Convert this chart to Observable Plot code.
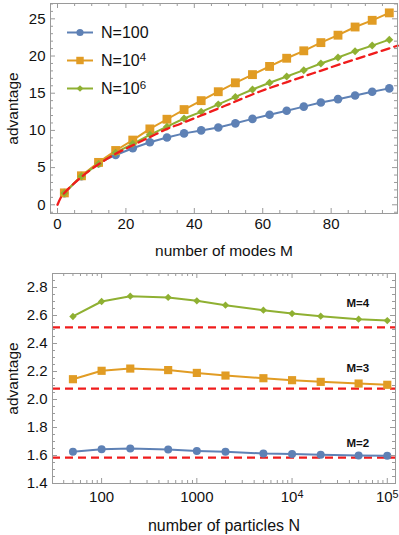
<!DOCTYPE html>
<html><head><meta charset="utf-8">
<script src="https://cdn.jsdelivr.net/npm/d3@7"></script>
<script src="https://cdn.jsdelivr.net/npm/@observablehq/plot@0.6"></script>
<style>
body{margin:0;background:#fff;}
#wrap{position:relative;width:399px;font-family:"Liberation Sans",Arial,sans-serif;}
#wrap svg{display:block;}
#legend{position:absolute;left:0;top:0;}
</style></head><body><div id="wrap"></div>
<script>
// ---------- top panel data ----------
const modes = [2,7,12,17,22,27,32,37,42,47,52,57,62,67,72,77,82,87,92,97];
const advN100 = [1.57,3.85,5.6,6.7,7.6,8.4,9.05,9.6,10.0,10.4,10.95,11.55,12.1,12.65,13.2,13.75,14.2,14.7,15.2,15.65];
const advN1e4 = [1.6,3.9,5.7,7.3,8.7,10.2,11.5,12.8,14.0,15.2,16.4,17.5,18.6,19.7,20.7,21.8,22.8,23.9,24.8,25.8];
const advN1e6 = [1.6,3.85,5.5,7.0,8.2,9.4,10.5,11.6,12.5,13.5,14.5,15.5,16.4,17.25,18.1,19.0,19.8,20.65,21.4,22.2];
const limitM   = [0,1,2,3,4,7,12,17,22,27,32,36,42,50,59,71,83,99.5];
const limitAdv = [0,1.0,1.585,2.08,2.52,3.75,5.45,6.85,8.0,9.1,10.2,10.9,12.0,13.5,15.2,17.1,18.95,21.4];
const topNames = ["N=100","N=10\u2074","N=10\u2076"];

// ---------- bottom panel data ----------
const particles = [50,100,200,500,1000,2000,5000,1e4,2e4,5e4,1e5];
const advM2 = [1.626,1.645,1.650,1.643,1.633,1.626,1.614,1.610,1.605,1.600,1.598];
const advM3 = [2.145,2.205,2.221,2.210,2.190,2.171,2.152,2.138,2.126,2.114,2.105];
const advM4 = [2.593,2.700,2.738,2.729,2.705,2.674,2.638,2.614,2.595,2.574,2.564];
const limitByM = [1.585,2.078,2.515];
const bottomNames = ["M=2","M=3","M=4"];
const bottomLabelY = [1.69,2.22,2.685];
const bottomLabelN = 4.9e4;

// ---------- ticks ----------
const topXTicks = [0,20,40,60,80];
const topXMinor = [5,10,15,25,30,35,45,50,55,65,70,75,85,90,95];
const topYTicks = [0,5,10,15,20,25];
const topYMinor = [-1,1,2,3,4,6,7,8,9,11,12,13,14,16,17,18,19,21,22,23,24,26,27];
const botXTicks = [100,1000,1e4,1e5];
const botXTickLabels = ["100","1000","10\u2074","10\u2075"];
const botXMinor = [40,50,60,70,80,90,200,300,400,500,600,700,800,900,2000,3000,4000,5000,6000,7000,8000,9000,2e4,3e4,4e4,5e4,6e4,7e4,8e4,9e4];
const botYTicks = [1.4,1.6,1.8,2.0,2.2,2.4,2.6,2.8];
const botYMinor = [1.45,1.5,1.55,1.65,1.7,1.75,1.85,1.9,1.95,2.05,2.1,2.15,2.25,2.3,2.35,2.45,2.5,2.55,2.65,2.7,2.75,2.85];

// ---------- style ----------
const colors = ["#5E81B5","#E19C24","#8FB032"];
const symbols = ["circle","square","diamond2"];
const radiiTop = [4.3,5.0,3.6];
const radiiBot = [4.0,4.6,3.3];
const red = "#f01c1c";
const frameColor = "#9a9a9a";
const W = 399;
const font = "Liberation Sans, Arial, sans-serif";

function tickMarks(fw, fh, xMaj, xMin, yMaj, yMin) {
  const L = 5, l = 3, c = frameColor;
  return [
    Plot.tickX(xMaj, {x: d => d, insetTop: fh - L, stroke: c}),
    Plot.tickX(xMin, {x: d => d, insetTop: fh - l, stroke: c}),
    Plot.tickX(xMaj, {x: d => d, insetBottom: fh - L, stroke: c}),
    Plot.tickX(xMin, {x: d => d, insetBottom: fh - l, stroke: c}),
    Plot.tickY(yMaj, {y: d => d, insetRight: fw - L, stroke: c}),
    Plot.tickY(yMin, {y: d => d, insetRight: fw - l, stroke: c}),
    Plot.tickY(yMaj, {y: d => d, insetLeft: fw - L, stroke: c}),
    Plot.tickY(yMin, {y: d => d, insetLeft: fw - l, stroke: c})
  ];
}

// ---------- top chart ----------
const topSeries = [advN100, advN1e4, advN1e6].map((vals, k) =>
  modes.map((m, i) => ({M: m, v: vals[i], k})));
const limitTop = limitM.map((m, i) => ({M: m, v: limitAdv[i]}));

const tM = {l: 50, r: 2, t: 3, b: 57, h: 270};
const topPlot = Plot.plot({
  width: W, height: tM.h,
  marginLeft: tM.l, marginRight: tM.r, marginTop: tM.t, marginBottom: tM.b,
  style: {fontFamily: font, background: "white", color: "#111"},
  x: {domain: [-2.05, 99.4]},
  y: {domain: [-1.17, 27.06]},
  marks: [
    ...topSeries.map((s, k) => Plot.line(s, {x: "M", y: "v", stroke: colors[k], strokeWidth: 2})),
    ...topSeries.map((s, k) => Plot.dot(s, {x: "M", y: "v", symbol: symbols[k], fill: colors[k], r: radiiTop[k]})),
    Plot.line(limitTop, {x: "M", y: "v", stroke: red, strokeWidth: 2.3, strokeDasharray: "8,5", curve: "catmull-rom"}),
    Plot.frame({stroke: frameColor}),
    ...tickMarks(W - tM.l - tM.r, tM.h - tM.t - tM.b, topXTicks, topXMinor, topYTicks, topYMinor),
    Plot.axisX({ticks: topXTicks, tickSize: 0, tickPadding: 5, fontSize: 15, label: null}),
    Plot.axisY({ticks: topYTicks, tickSize: 0, tickPadding: 5, fontSize: 15, label: null}),
    Plot.axisX({ticks: [], label: "number of modes M", labelAnchor: "center", labelArrow: "none", labelOffset: 42, fontSize: 15.5}),
    Plot.axisY({ticks: [], label: "advantage", labelAnchor: "center", labelArrow: "none", labelOffset: 44, fontSize: 15.5})
  ]
});

// ---------- bottom chart ----------
const botSeries = [advM2, advM3, advM4].map((vals, k) =>
  particles.map((n, i) => ({N: n, v: vals[i], k})));
const labelRows = bottomNames.map((t, i) => ({t, N: bottomLabelN, v: bottomLabelY[i]}));

const bM = {l: 52, r: 4, t: 3, b: 52, h: 265};
const botPlot = Plot.plot({
  width: W, height: bM.h,
  marginLeft: bM.l, marginRight: bM.r, marginTop: bM.t, marginBottom: bM.b,
  style: {fontFamily: font, background: "white", color: "#111"},
  x: {type: "log", domain: [30.5, 1.22e5]},
  y: {domain: [1.4, 2.9]},
  marks: [
    Plot.ruleY(limitByM, {y: d => d, stroke: red, strokeWidth: 2.3, strokeDasharray: "8,5"}),
    ...botSeries.map((s, k) => Plot.line(s, {x: "N", y: "v", stroke: colors[k], strokeWidth: 2})),
    ...botSeries.map((s, k) => Plot.dot(s, {x: "N", y: "v", symbol: symbols[k], fill: colors[k], r: radiiBot[k]})),
    Plot.text(labelRows, {x: "N", y: "v", text: "t", fontWeight: "bold", fontSize: 11.5, fill: "#111"}),
    Plot.frame({stroke: frameColor}),
    ...tickMarks(W - bM.l - bM.r, bM.h - bM.t - bM.b, botXTicks, botXMinor, botYTicks, botYMinor),
    Plot.axisX({ticks: botXTicks, tickFormat: d => botXTickLabels[botXTicks.indexOf(d)], tickSize: 0, tickPadding: 8, fontSize: 15, label: null}),
    Plot.axisY({ticks: botYTicks, tickFormat: d => d.toFixed(1), tickSize: 0, tickPadding: 5, fontSize: 15, label: null}),
    Plot.axisX({ticks: [], label: "number of particles N", labelAnchor: "center", labelArrow: "none", labelOffset: 47, fontSize: 16}),
    Plot.axisY({ticks: [], label: "advantage", labelAnchor: "center", labelArrow: "none", labelOffset: 46, fontSize: 15.5})
  ]
});

const wrap = document.getElementById("wrap");
wrap.appendChild(topPlot);
wrap.appendChild(botPlot);

// ---------- legend (overlay on top chart) ----------
const lg = d3.select(wrap).append("svg").attr("id", "legend")
  .attr("width", 170).attr("height", 110);
const symMap = {circle: d3.symbolCircle, square: d3.symbolSquare, diamond2: d3.symbolDiamond2};
const legR = [3.6, 4.2, 3.0];
topNames.forEach((name, k) => {
  const y = 32.5 + k * 28;
  const g = lg.append("g").attr("transform", `translate(0,${y})`);
  g.append("line").attr("x1", 67).attr("x2", 93).attr("y1", 0).attr("y2", 0)
    .attr("stroke", colors[k]).attr("stroke-width", 2);
  g.append("path").attr("transform", "translate(80,0)")
    .attr("d", d3.symbol(symMap[symbols[k]], Math.PI * legR[k] * legR[k])())
    .attr("fill", colors[k]);
  g.append("text").attr("x", 101).attr("y", 0).attr("dy", "0.36em")
    .attr("font-size", 16).attr("font-family", font).attr("fill", "#111").text(name);
});

// ---------- render unicode superscripts as raised smaller digits ----------
const supMap = {"\u2070":"0","\u00b9":"1","\u00b2":"2","\u00b3":"3","\u2074":"4","\u2075":"5","\u2076":"6","\u2077":"7","\u2078":"8","\u2079":"9"};
wrap.querySelectorAll("text, tspan").forEach(el => {
  if (el.children.length) return;
  const s = el.textContent;
  const m = s.match(/^(.*?)([\u2070\u00b9\u00b2\u00b3\u2074-\u2079]+)$/);
  if (!m) return;
  el.textContent = m[1];
  const ns = "http://www.w3.org/2000/svg";
  const t = document.createElementNS(ns, "tspan");
  t.setAttribute("dy", "-0.42em");
  t.setAttribute("font-size", "0.72em");
  t.textContent = m[2].split("").map(c => supMap[c]).join("");
  el.appendChild(t);
});
</script>
</body></html>
